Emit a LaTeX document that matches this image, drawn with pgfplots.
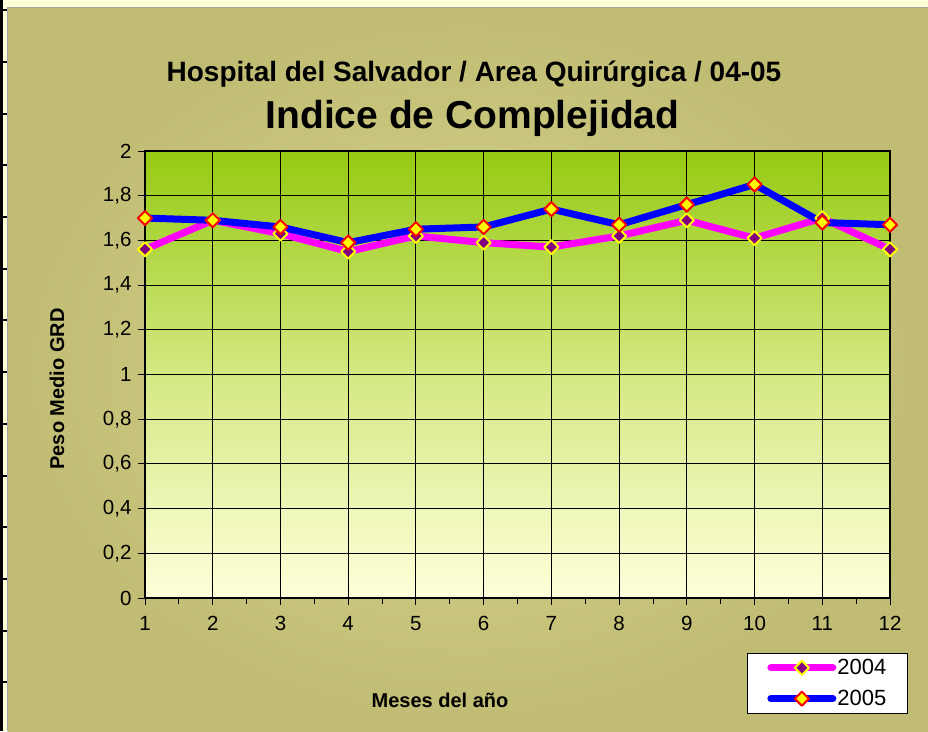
\documentclass[border=0pt]{standalone}
\usepackage{fontspec}
\setmainfont{Liberation Sans}
\usepackage{pgfplots}
\pgfplotsset{compat=1.18}
\definecolor{stripbg}{RGB}{255,255,215}
\definecolor{olivein}{RGB}{216,213,140}
\definecolor{oliveout}{RGB}{192,188,115}
\definecolor{topgreen}{RGB}{150,202,18}
\definecolor{midgreen}{RGB}{212,232,130}
\definecolor{botyellow}{RGB}{255,255,218}
\definecolor{mag}{RGB}{255,0,255}
\definecolor{purp}{RGB}{128,0,128}
\definecolor{blu}{RGB}{0,0,255}
\definecolor{yel}{RGB}{255,255,0}
\definecolor{rd}{RGB}{255,0,0}
\begin{document}
\begin{tikzpicture}[x=1pt,y=1pt]
\path[use as bounding box] (0,0) rectangle (928,731);
\fill[stripbg] (0,0) rectangle (928,731);
\shade[inner color=olivein, outer color=oliveout] (8,0) rectangle (928,723);
\draw[gray!70, line width=1pt] (7.5,0) -- (7.5,723.5) -- (928,723.5);
\fill[black] (0,0) rectangle (3,731);
\foreach \k in {0,...,13} {
  \draw[black, line width=2pt] (0,{731-10.3-51.7*\k}) -- (7,{731-10.3-51.7*\k});
}
\begin{axis}[
  at={(145pt,133pt)}, anchor=south west,
  scale only axis, width=745pt, height=447pt,
  xmin=1, xmax=12, ymin=0, ymax=2,
  xtick={1,2,3,4,5,6,7,8,9,10,11,12},
  minor xtick={1.5,2.5,3.5,4.5,5.5,6.5,7.5,8.5,9.5,10.5,11.5},
  ytick={0,0.2,0.4,0.6,0.8,1,1.2,1.4,1.6,1.8,2},
  grid=major,
  major grid style={black, line width=0.9pt},
  axis line style={black, line width=1.3pt},
  tick align=outside,
  major tick length=7pt, minor tick length=6pt,
  every tick/.style={black, line width=0.9pt},
  xtick pos=left, ytick pos=left,
  tick label style={font=\fontsize{20.5}{24}\selectfont},
  xticklabel style={yshift=-8pt},
  yticklabel style={xshift=-3pt},
  /pgf/number format/.cd, use comma, assume math mode=true,
  /pgfplots/.cd,
  axis background/.style={top color=topgreen, bottom color=botyellow, middle color=midgreen},
  legend style={at={(axis description cs:0.808,-0.123)}, anchor=north west,
    draw=black, line width=0.8pt, fill=white, font=\fontsize{22}{24}\selectfont,
    inner xsep=20pt, inner ysep=5pt, row sep=12pt, nodes={inner sep=1pt}},
  legend cell align=left,
  legend image code/.code={
    \draw[#1, line cap=round, mark repeat=2, mark phase=2] plot coordinates {(0pt,0pt) (31pt,0pt) (62pt,0pt)};
  },
]
\addplot[mag, line width=7pt, line join=round, mark=square*, mark size=5pt,
  mark options={rotate=45, fill=purp, draw=yel, line width=2pt, solid}]
  coordinates {(1,1.56) (2,1.69) (3,1.63) (4,1.55) (5,1.62) (6,1.59) (7,1.57) (8,1.62) (9,1.69) (10,1.61) (11,1.70) (12,1.56)};
\addlegendentry{2004}
\addplot[blu, line width=7pt, line join=round, mark=square*, mark size=5pt,
  mark options={rotate=45, fill=yel, draw=rd, line width=2pt, solid}]
  coordinates {(1,1.70) (2,1.69) (3,1.66) (4,1.59) (5,1.65) (6,1.66) (7,1.74) (8,1.67) (9,1.76) (10,1.85) (11,1.68) (12,1.67)};
\addlegendentry{2005}
\end{axis}
\node[font=\bfseries\fontsize{28}{32}\selectfont, anchor=base] at (474,{731-82}) {Hospital del Salvador / Area Quirúrgica / 04-05};
\node[font=\bfseries\fontsize{39}{44}\selectfont, anchor=base] at (472.5,{731-129}) {Indice de Complejidad};
\node[font=\bfseries\fontsize{20}{24}\selectfont, rotate=90] at (57,342) {Peso Medio GRD};
\node[font=\bfseries\fontsize{20}{24}\selectfont] at (440,31) {Meses del año};
\end{tikzpicture}
\end{document}
